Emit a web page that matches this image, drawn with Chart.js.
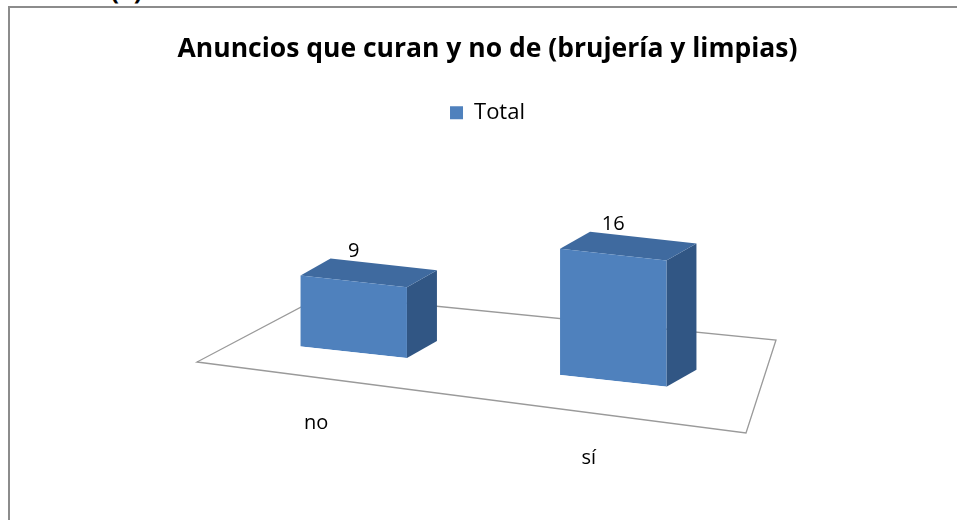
<!DOCTYPE html>
<html>
<head>
<meta charset="utf-8">
<script src="https://cdn.jsdelivr.net/npm/chart.js@4.4.1/dist/chart.umd.min.js"></script>
<style>
body { margin: 0; background: #ffffff; overflow: hidden; }
#wrap { position: relative; width: 957px; height: 520px; overflow: hidden; }
#frame { position: absolute; left: 8px; top: 6px; width: 1000px; height: 600px;
	border-left: 2px solid #8c8c8c; border-top: 2px solid #8c8c8c; }
#caption { position: absolute; left: 10px; top: -29px; font: bold 26px "Open Sans", "Liberation Sans", sans-serif; color: #000; }
#chart { position: absolute; left: 0; top: 0; }
</style>
</head>
<body>
<div id="wrap">
	<div id="caption">Gráfica (4)</div>
	<div id="frame"></div>
	<canvas id="chart" width="957" height="520"></canvas>
</div>
<script>
var categories = ["no", "sí"];
var totals = [9, 16];
var seriesName = "Total";
var chartTitle = "Anuncios que curan y no de (brujería y limpias)";

var font = "'Open Sans', 'Liberation Sans', sans-serif";
var frontColor = "#4f81bd";
var topColor = "#3f6a9f";
var sideColor = "#315684";
var skew = 0.11;      // slope of the floor, gives the tilted look
var depthX = 30, depthY = -17;

// floor + top/side faces of the boxes, drawn around the normal bars
var fake3d = {
	id: 'fake3d',
	beforeDatasetsDraw: function(chart) {
		var ctx = chart.ctx;
		var a = chart.chartArea;
		// floor of the plot
		ctx.save();
		ctx.beginPath();
		ctx.moveTo(a.left - 27, a.bottom + 24);
		ctx.lineTo(a.right + 3, a.bottom + 95);
		ctx.lineTo(a.right + 33, a.bottom + 2);
		ctx.lineTo(a.left + 100, a.bottom - 43);
		ctx.closePath();
		ctx.strokeStyle = "#9a9a9a";
		ctx.lineWidth = 1.3;
		ctx.stroke();
		ctx.restore();

		ctx.save();
		ctx.transform(1, skew, 0, 1, 0, -skew * a.left);
		var meta = chart.getDatasetMeta(0);
		meta.data.forEach(function(bar) {
			var l = bar.x - bar.width / 2;
			var r = bar.x + bar.width / 2;
			var t = bar.y;
			var b = bar.base;
			var dy = depthY - skew * depthX;
			// side
			ctx.beginPath();
			ctx.moveTo(r, t);
			ctx.lineTo(r + depthX, t + dy);
			ctx.lineTo(r + depthX, b + dy);
			ctx.lineTo(r, b);
			ctx.closePath();
			ctx.fillStyle = sideColor;
			ctx.fill();
			// top
			ctx.beginPath();
			ctx.moveTo(l, t);
			ctx.lineTo(l + depthX, t + dy);
			ctx.lineTo(r + depthX, t + dy);
			ctx.lineTo(r, t);
			ctx.closePath();
			ctx.fillStyle = topColor;
			ctx.fill();
		});
	},
	afterDatasetsDraw: function(chart) {
		var ctx = chart.ctx;
		var a = chart.chartArea;
		ctx.restore();
		var meta = chart.getDatasetMeta(0);
		ctx.save();
		ctx.font = "20px " + font;
		ctx.fillStyle = "#000";
		ctx.textAlign = "center";
		ctx.textBaseline = "middle";
		meta.data.forEach(function(bar, i) {
			var dx = bar.x - a.left;
			// value above the box
			ctx.fillText(String(totals[i]), bar.x, bar.y + skew * dx - 30);
			// category under the front edge of the floor
			ctx.fillText(categories[i], a.left + dx * 1.05 - 44, bar.base + dx * 0.135 + 68);
		});
		ctx.restore();
	}
};

// empty side axes just to reserve room left and right of the boxes
function hiddenAxis(pos, w) {
	return {
		position: pos,
		display: true,
		min: 0,
		max: 1,
		ticks: { display: false },
		grid: { display: false },
		border: { display: false },
		afterFit: function(scale) { scale.width = w; }
	};
}

var yAxis = hiddenAxis('left', 206);
yAxis.max = 25.9;

var ctx = document.getElementById("chart").getContext('2d');
var myChart = new Chart(ctx, {
	type: 'bar',
	data: {
		labels: categories,
		datasets: [{
			label: seriesName,
			data: totals,
			backgroundColor: frontColor,
			borderWidth: 0,
			barPercentage: 0.41,
			categoryPercentage: 1
		}]
	},
	options: {
		responsive: false,
		animation: false,
		layout: { padding: { left: 18, right: 0, top: 24, bottom: 182 } },
		scales: {
			x: { display: false },
			y: yAxis,
			yRight: hiddenAxis('right', 214)
		},
		plugins: {
			title: {
				display: true,
				text: chartTitle,
				color: "#000",
				font: { family: font, size: 26.5, weight: 'bold' },
				padding: { top: 10, bottom: 26 }
			},
			legend: {
				display: true,
				labels: {
					color: "#000",
					font: { family: font, size: 22 },
					boxWidth: 13,
					boxHeight: 13
				}
			},
			tooltip: { enabled: false }
		}
	},
	plugins: [fake3d]
});
</script>
</body>
</html>
